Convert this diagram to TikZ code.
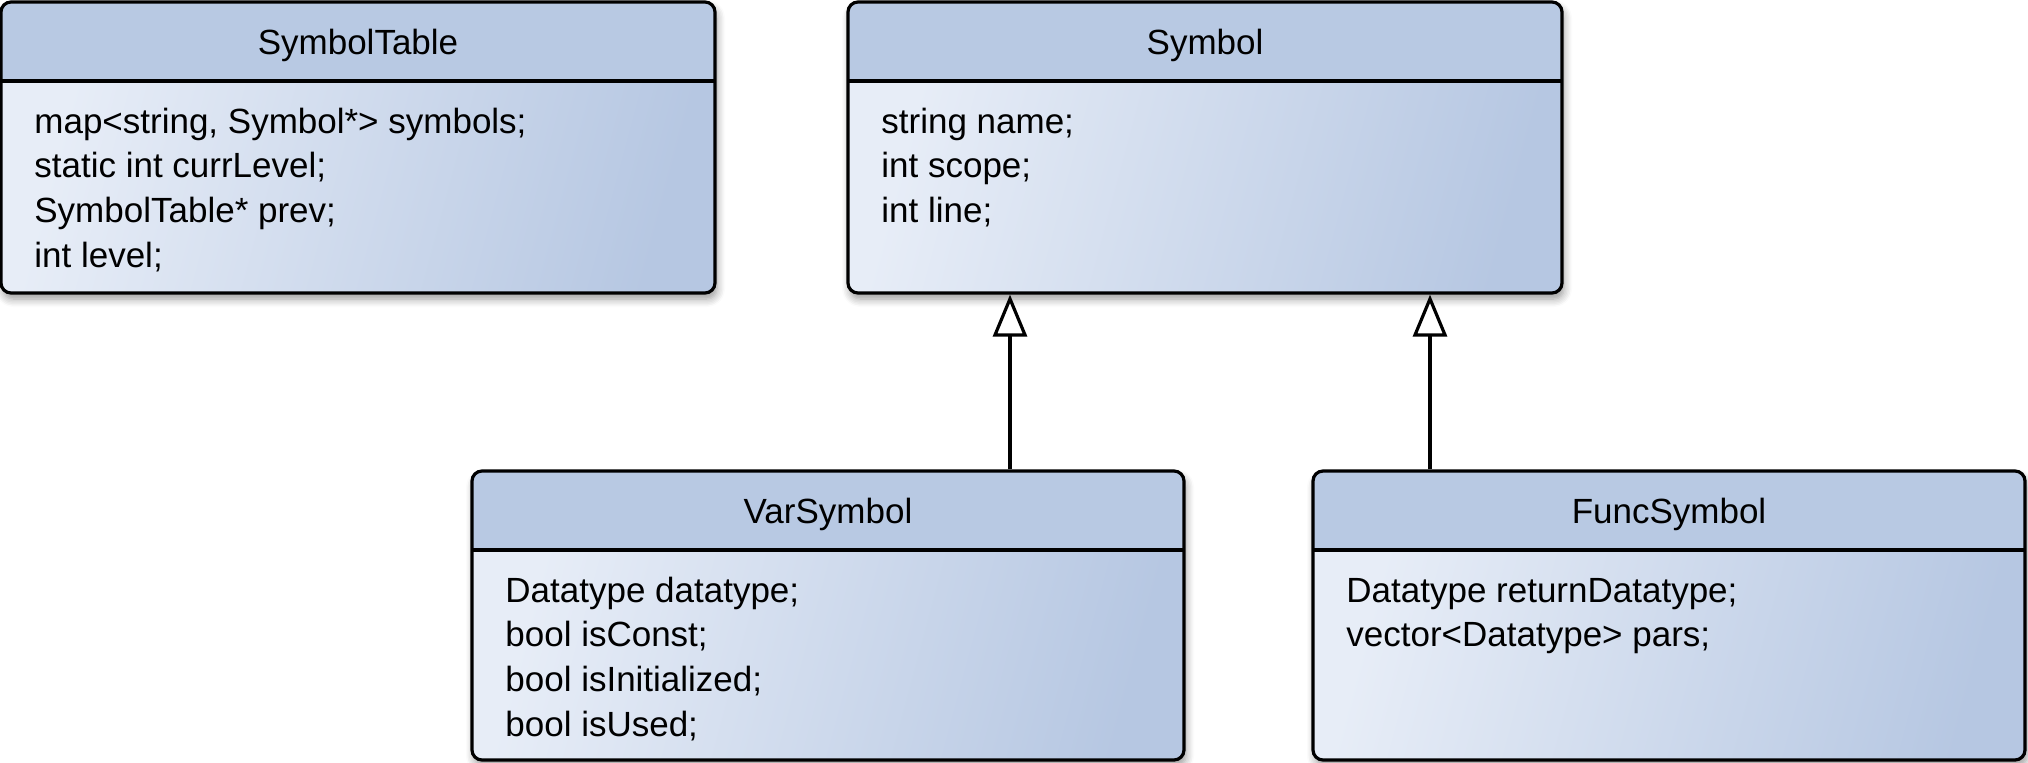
\documentclass[tikz,border=0pt]{standalone}
\usepackage{fontspec}
\setmainfont{Liberation Sans}
\usetikzlibrary{arrows.meta,shadows.blur,fit}
\definecolor{headcol}{RGB}{184,201,227}
\definecolor{bodyl}{RGB}{231,237,247}
\definecolor{bodyr}{RGB}{182,199,226}
\tikzset{
  classframe/.style={draw=black, line width=1.6pt, rounded corners=5pt, inner sep=0pt},
  titletext/.style={anchor=base, font=\fontsize{17.5}{22}\selectfont, inner sep=0pt},
  attrtext/.style={anchor=base west, font=\fontsize{17.5}{22.35}\selectfont, inner sep=0pt},
  inherit/.style={draw=black, line width=1.6pt, line join=round, -{Triangle[open, length=21pt, width=17pt, fill=white]}},
  boxshadow/.style={blur shadow={shadow xshift=1pt, shadow yshift=-3pt, shadow blur steps=6, shadow opacity=40, shadow blur radius=4pt}},
}
% #1 name, #2 x1, #3 y1, #4 x2, #5 y2, #6 header line y, #7 title, #8 attributes
\newcommand\classbox[8]{%
  \path[boxshadow, rounded corners=5pt, fill=white] (#2,#3) rectangle (#4,#5);
  \begin{scope}
    \clip[rounded corners=5pt] (#2,#3) rectangle (#4,#5);
    \fill[headcol] (#2,#3) rectangle (#4,#6);
    \shade[left color=bodyl, right color=bodyr, shading angle=75] (#2,#6) rectangle (#4,#5);
  \end{scope}
  \node[classframe, fit={(#2,#3) (#4,#5)}] (#1) {};
  \draw[line width=1.6pt] (#2,#6) -- (#4,#6);
  \node[titletext] (#1t) at ({(#2+#4)/2}, #3+52) {#7};
  \node[attrtext] (#1a) at (#2+33, #3+131) {\begin{tabular}[t]{@{}l@{}}#8\end{tabular}};
}
\begin{document}
\begin{tikzpicture}[x=0.5pt, y=-0.5pt]
\useasboundingbox (0,0) rectangle (2028,762);
\classbox{table}{1}{2}{715}{293}{81}{SymbolTable}{map<string, Symbol*> symbols;\\static int currLevel;\\SymbolTable* prev;\\int level;}
\classbox{sym}{848}{2}{1562}{293}{81}{Symbol}{string name;\\int scope;\\int line;}
\classbox{var}{472}{471}{1184}{760}{550}{VarSymbol}{Datatype datatype;\\bool isConst;\\bool isInitialized;\\bool isUsed;}
\classbox{func}{1313}{471}{2025}{760}{550}{FuncSymbol}{Datatype returnDatatype;\\vector<Datatype> pars;}
\coordinate (a1) at (1010,0);
\coordinate (a2) at (1430,0);
\draw[inherit] (a1 |- var.north) -- (a1 |- sym.south);
\draw[inherit] (a2 |- func.north) -- (a2 |- sym.south);
\end{tikzpicture}
\end{document}
